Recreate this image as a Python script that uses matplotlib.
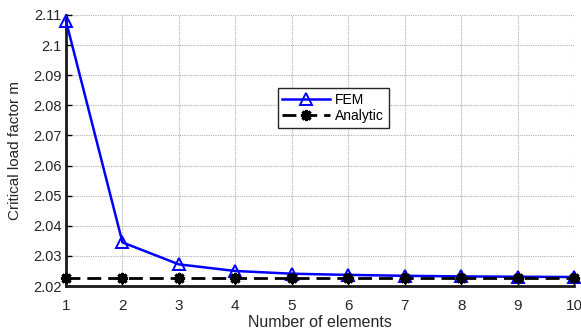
import matplotlib
matplotlib.use('Agg')
import matplotlib.pyplot as plt

plt.rcParams['font.family'] = ['Liberation Sans', 'DejaVu Sans']

# Data
elements = [1, 2, 3, 4, 5, 6, 7, 8, 9, 10]
fem = [2.108, 2.0345, 2.0272, 2.0250, 2.0241, 2.0237, 2.0234, 2.0232, 2.0231, 2.0230]
analytic = [2.0228] * 10
ytick_vals = [2.02, 2.03, 2.04, 2.05, 2.06, 2.07, 2.08, 2.09, 2.10, 2.11]
ytick_labels = ['2.02', '2.03', '2.04', '2.05', '2.06', '2.07', '2.08', '2.09', '2.1', '2.11']

fig = plt.figure(figsize=(5.81, 3.33), dpi=100)
ax = fig.add_axes([0.1136, 0.141, 0.988 - 0.1136, 0.955 - 0.141])

ax.plot(elements, fem, color='#0000ff', lw=1.8, marker='^', ms=8,
        mfc='none', mec='#0000ff', mew=1.4, label='FEM', clip_on=False, zorder=3)
ax.plot(elements, analytic, color='black', lw=2, ls=(0, (5, 2.5)), marker=(8, 2, 0),
        ms=8, mew=2.2, mec='black', label='Analytic', clip_on=False, zorder=4)

ax.set_xlim(1, 10)
ax.set_ylim(2.02, 2.11)
ax.set_xticks(elements)
ax.set_yticks(ytick_vals)
ax.set_yticklabels(ytick_labels)

ax.grid(True, ls=(0, (1, 1)), color='#b0b0b0', lw=0.8)
ax.spines['top'].set_visible(False)
ax.spines['right'].set_visible(False)
ax.spines['left'].set_linewidth(2)
ax.spines['bottom'].set_linewidth(2)
ax.spines['left'].set_color('#1a1a1a')
ax.spines['bottom'].set_color('#1a1a1a')
ax.tick_params(direction='in', length=4, width=1, color='black', labelcolor='#262626')
ax.tick_params(axis='x', labelsize=11, pad=9)
ax.tick_params(axis='y', labelsize=10.5, pad=3)

ax.set_xlabel('Number of elements', fontsize=11.5, color='#262626', labelpad=2)
ax.set_ylabel('Critical load factor m', fontsize=11, color='#262626', labelpad=8)

leg = ax.legend(loc='center', bbox_to_anchor=(0.526, 0.657), fontsize=10,
                fancybox=False, framealpha=1, edgecolor='#262626',
                handlelength=3.4, borderpad=0.35, labelspacing=0.15, handletextpad=0.4)
leg.get_frame().set_linewidth(1)

fig.savefig('out.png', dpi=100)
